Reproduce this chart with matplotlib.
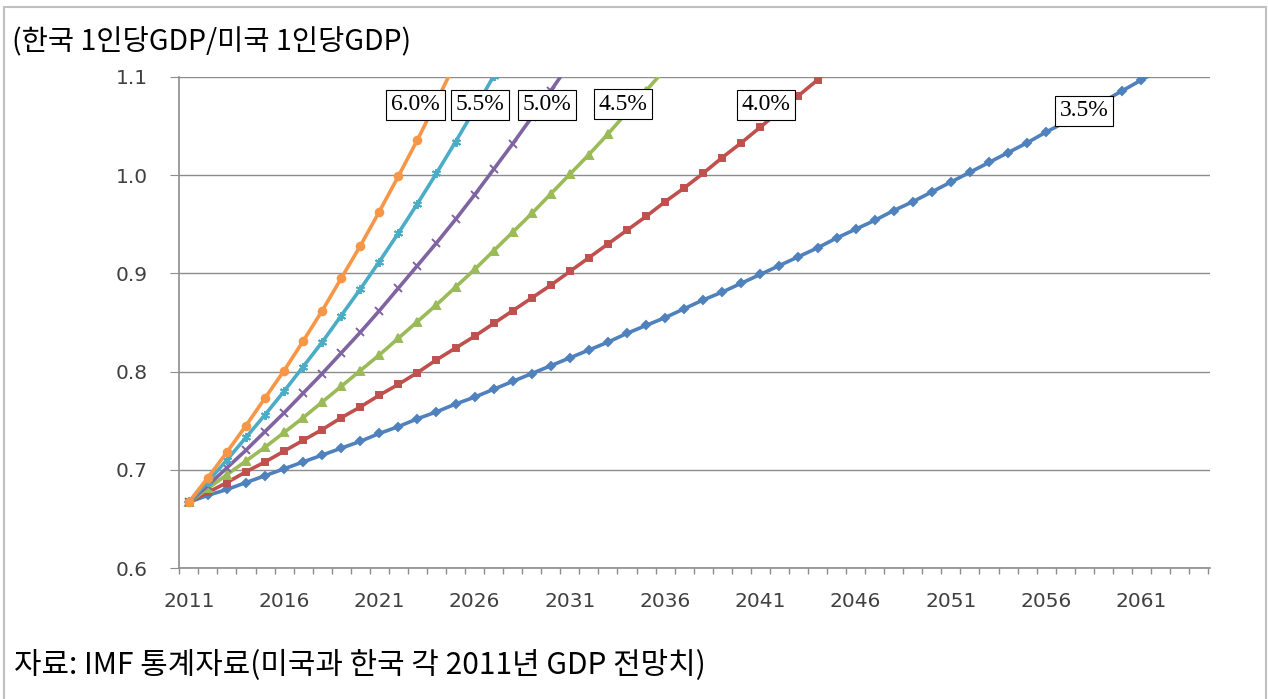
import matplotlib
matplotlib.use("Agg")
import matplotlib.pyplot as plt
from matplotlib.patches import Rectangle

plt.rcParams['font.family'] = ['Noto Sans CJK KR', 'DejaVu Sans']

# ratio of korea / us gdp per capita (start 2011)
g35 = [0.667, 0.674, 0.680, 0.687, 0.694, 0.701, 0.708, 0.715, 0.722, 0.729,
       0.737, 0.744, 0.752, 0.759, 0.767, 0.774, 0.782, 0.790, 0.798, 0.806,
       0.814, 0.822, 0.830, 0.839, 0.847, 0.855, 0.864, 0.873, 0.881, 0.890,
       0.899, 0.908, 0.917, 0.926, 0.936, 0.945, 0.954, 0.964, 0.973, 0.983,
       0.993, 1.003, 1.013, 1.023, 1.033, 1.044, 1.054, 1.065, 1.075, 1.086,
       1.097, 1.108]
g40 = [0.667, 0.677, 0.687, 0.698, 0.708, 0.719, 0.730, 0.741, 0.753, 0.764,
       0.776, 0.787, 0.799, 0.812, 0.824, 0.836, 0.849, 0.862, 0.875, 0.888,
       0.902, 0.916, 0.930, 0.944, 0.958, 0.973, 0.987, 1.002, 1.018, 1.033,
       1.049, 1.065, 1.081, 1.097, 1.114]
g45 = [0.667, 0.681, 0.695, 0.709, 0.723, 0.738, 0.753, 0.769, 0.785, 0.801,
       0.817, 0.834, 0.851, 0.868, 0.886, 0.904, 0.923, 0.942, 0.961, 0.981,
       1.001, 1.021, 1.042, 1.064, 1.086, 1.108]
g50 = [0.667, 0.684, 0.702, 0.720, 0.739, 0.758, 0.778, 0.798, 0.819, 0.840,
       0.862, 0.885, 0.908, 0.931, 0.955, 0.980, 1.006, 1.032, 1.059, 1.086,
       1.114]
g55 = [0.667, 0.688, 0.710, 0.733, 0.756, 0.780, 0.805, 0.830, 0.857, 0.884,
       0.912, 0.941, 0.971, 1.002, 1.034, 1.067, 1.101, 1.136]
g60 = [0.667, 0.692, 0.718, 0.745, 0.773, 0.801, 0.831, 0.862, 0.895, 0.928,
       0.963, 0.999, 1.036, 1.075, 1.115]

series = [g35, g40, g45, g50, g55, g60]
names = ['3.5%', '4.0%', '4.5%', '5.0%', '5.5%', '6.0%']
colors = ['#4F81BD', '#C0504D', '#9BBB59', '#8064A2', '#4BACC6', '#F79646']
markers = ['D', 's', '^', 'x', (6, 2, 0), 'o']
msizes = [4.5, 5, 5.5, 5.5, 6.5, 5.5]
label_pos = [(2058.0, 1.0654), (2041.3, 1.0715), (2033.8, 1.0725),
             (2029.8, 1.0715), (2026.3, 1.0715), (2022.9, 1.0715)]

xticks = list(range(2011, 2062, 5))
yticks = [0.6, 0.7, 0.8, 0.9, 1.0, 1.1]

W, H = 1268, 699
fig = plt.figure(figsize=(W / 100, H / 100), dpi=100)
ax = fig.add_axes([179.3 / W, 1 - 568 / H, (1210 - 179.3) / W, (568 - 77) / H])

for vals, c, m, ms in zip(series, colors, markers, msizes):
    yrs = list(range(2011, 2011 + len(vals)))
    ax.plot(yrs, vals, color=c, lw=2.6, marker=m, ms=ms, mfc=c, mec=c, mew=1.4,
            solid_joinstyle='round')

for name, (lx, ly) in zip(names, label_pos):
    ax.text(lx, ly, name, family='Liberation Serif', fontsize=17, ha='center', va='center',
            bbox=dict(boxstyle='square,pad=0.2', fc='white', ec='black', lw=0.8), zorder=5)

ax.set_xlim(2010.5, 2064.6)
ax.set_ylim(0.6, 1.1)
ax.set_yticks(yticks)
ax.set_yticklabels(['%.1f' % v for v in yticks])
ax.set_xticks(xticks)
ax.set_xticklabels([str(v) for v in xticks])
ax.set_xticks([2010.5 + k for k in range(55)], minor=True)
ax.grid(axis='y', color='#8c8c8c', lw=1.0)
ax.set_axisbelow(True)
for s in ['top', 'right']:
    ax.spines[s].set_visible(False)
for s in ['left', 'bottom']:
    ax.spines[s].set_color('#8c8c8c')
    ax.spines[s].set_linewidth(1.2)
ax.tick_params(axis='y', length=6.5, color='#8c8c8c', labelsize=14.5, labelcolor='#404040',
               pad=16, labelfontfamily='DejaVu Sans')
ax.tick_params(axis='x', which='major', length=0, labelsize=14.5, labelcolor='#404040',
               pad=17, labelfontfamily='DejaVu Sans')
ax.tick_params(axis='x', which='minor', length=4.5, color='#8c8c8c', width=1)

fig.text(12 / W, 1 - 42 / H, '(한국 1인당GDP/미국 1인당GDP)', fontsize=20.5, ha='left', va='center')
fig.text(14 / W, 1 - 665 / H, '자료: IMF 통계자료(미국과 한국 각 2011년 GDP 전망치)', fontsize=21.5,
         ha='left', va='center')

fig.add_artist(Rectangle((4 / W, -0.01), (1266 - 4) / W, (H - 7) / H + 0.01, fill=False,
                         edgecolor='#c0c0c0', lw=1.5, transform=fig.transFigure))

fig.savefig('out.png', dpi=100)
